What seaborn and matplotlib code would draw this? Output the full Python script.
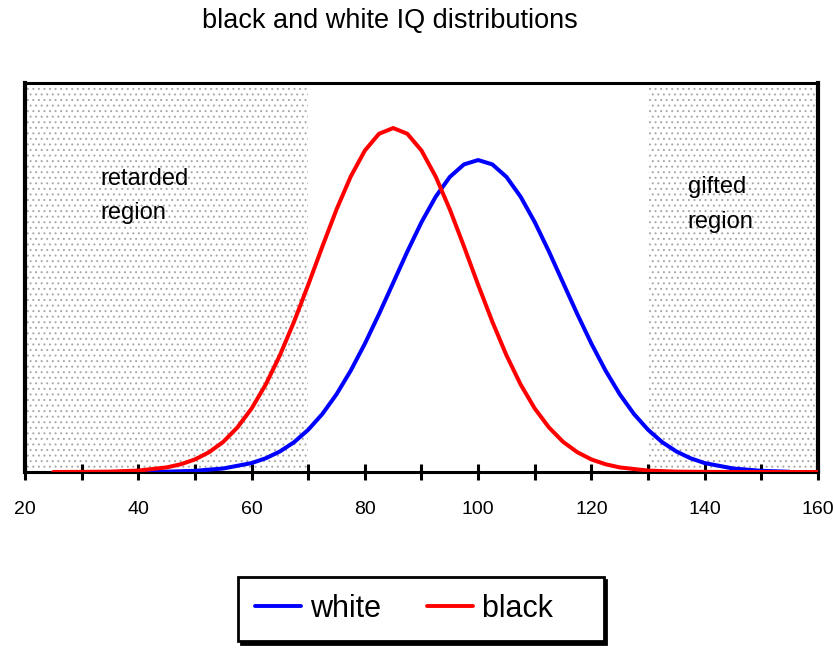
import matplotlib
matplotlib.use("Agg")
import matplotlib.pyplot as plt
import seaborn as sns
import pandas as pd
from matplotlib.ticker import MultipleLocator

# ---- data ----
white_iq = [35, 40, 45, 50, 55, 60, 62.5, 65, 67.5, 70, 72.5, 75, 77.5, 80, 82.5,
            85, 87.5, 90, 92.5, 95, 97.5, 100, 102.5, 105, 107.5, 110, 112.5,
            115, 117.5, 120, 122.5, 125, 127.5, 130, 132.5, 135, 137.5, 140,
            145, 150, 155]
white_density = [0.000, 0.001, 0.003, 0.010, 0.030, 0.076, 0.117, 0.175, 0.254,
                 0.360, 0.495, 0.663, 0.864, 1.094, 1.347, 1.613, 1.880, 2.130,
                 2.347, 2.516, 2.623, 2.660, 2.623, 2.516, 2.347, 2.130, 1.880,
                 1.613, 1.347, 1.094, 0.864, 0.663, 0.495, 0.360, 0.254, 0.175,
                 0.117, 0.076, 0.030, 0.010, 0.002]

black_iq = [25, 30, 35, 40, 45, 47.5, 50, 52.5, 55, 57.5, 60, 62.5, 65, 67.5, 70,
            72.5, 75, 77.5, 80, 82.5, 85, 87.5, 90, 92.5, 95, 97.5, 100, 102.5,
            105, 107.5, 110, 112.5, 115, 117.5, 120, 122.5, 125, 130, 135, 140,
            145, 150, 155, 160]
black_density = [0.000, 0.001, 0.003, 0.012, 0.039, 0.066, 0.107, 0.169, 0.257,
                 0.380, 0.541, 0.746, 0.995, 1.282, 1.596, 1.923, 2.239, 2.519,
                 2.741, 2.884, 2.933, 2.884, 2.741, 2.519, 2.239, 1.923, 1.596,
                 1.282, 0.995, 0.746, 0.541, 0.380, 0.257, 0.169, 0.107, 0.066,
                 0.039, 0.012, 0.003, 0.001, 0.000, 0.000, 0.000, 0.000]

series_names = ["white", "black"]
series_colors = ["#0000FF", "#FF0000"]
regions = [(20, 70, "retarded\nregion"), (130, 160, "gifted\nregion")]
x_ticks = [20, 40, 60, 80, 100, 120, 140, 160]

df = pd.concat([
    pd.DataFrame({"IQ": white_iq, "density": white_density, "group": "white"}),
    pd.DataFrame({"IQ": black_iq, "density": black_density, "group": "black"}),
])

sns.set_theme(style="white")
plt.rcParams["font.family"] = ["Liberation Sans", "DejaVu Sans"]
plt.rcParams["text.color"] = "black"
plt.rcParams["xtick.color"] = "black"
plt.rcParams["xtick.labelcolor"] = "black"
plt.rcParams["hatch.linewidth"] = 0.7

fig = plt.figure(figsize=(8.33, 6.48), dpi=100)
ax = fig.add_axes([25 / 833, 1 - 472 / 648, (818 - 25) / 833, (472 - 83) / 648])

for x0, x1, _ in regions:
    ax.axvspan(x0, x1, facecolor="white", edgecolor="#a8a8a8", hatch="...",
               linewidth=0, zorder=0)

sns.lineplot(data=df, x="IQ", y="density", hue="group", hue_order=series_names,
             palette=series_colors, linewidth=2.9, ax=ax, zorder=3,
             legend=True, sort=False)

ax.text(33.3, 2.595, regions[0][2], fontsize=17, va="top", ha="left",
        linespacing=1.75)
ax.text(137.0, 2.525, regions[1][2], fontsize=17, va="top", ha="left",
        linespacing=1.75)

ax.set_xlim(20, 160)
ax.set_ylim(0, 3.317)
ax.set_xticks(x_ticks)
ax.xaxis.set_minor_locator(MultipleLocator(10))
ax.set_yticks([])
ax.set_xlabel("")
ax.set_ylabel("")
ax.tick_params(axis="x", which="both", direction="inout", length=12, width=2.2,
               color="black", bottom=True, labelsize=14, pad=15)

for side in ["left", "right", "top", "bottom"]:
    ax.spines[side].set_visible(True)
    ax.spines[side].set_color("black")
ax.spines["left"].set_linewidth(3)
ax.spines["right"].set_linewidth(3)
ax.spines["top"].set_linewidth(2.2)
ax.spines["bottom"].set_linewidth(2.2)

fig.text(390 / 833, 1 - 21 / 648, "black and white IQ distributions",
         fontsize=19.5, ha="center", va="center")

handles, labels = ax.get_legend_handles_labels()
ax.legend_.remove()
labels = [lab if lab == "white" else lab + "    " for lab in labels]
leg = fig.legend(handles, labels, loc="center", bbox_to_anchor=(421 / 833, 1 - 609 / 648),
                 ncol=2, fontsize=22, frameon=True, fancybox=False,
                 edgecolor="black", handlelength=1.5, handletextpad=0.3,
                 columnspacing=1.5, borderpad=0.55,
                 shadow={"color": "black", "alpha": 1})
leg.get_frame().set_linewidth(2)
for line in leg.get_lines():
    line.set_linewidth(2.8)

fig.savefig("out.png", dpi=100)
